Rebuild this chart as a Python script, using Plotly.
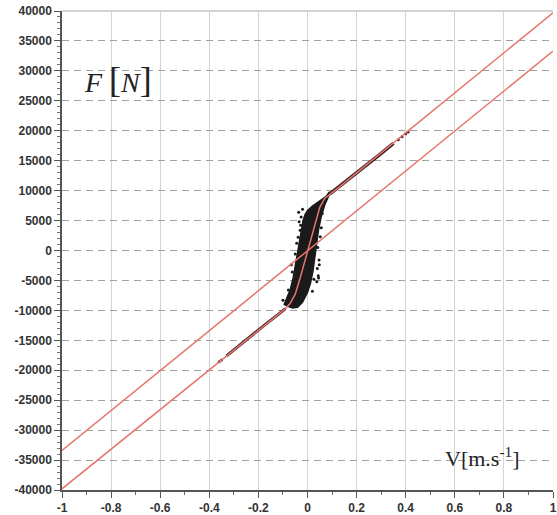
import plotly.graph_objects as go

# ---- tick labels ----
x_tick_vals = [-1, -0.8, -0.6, -0.4, -0.2, 0, 0.2, 0.4, 0.6, 0.8, 1]
x_tick_text = ["-1", "-0.8", "-0.6", "-0.4", "-0.2", "0", "0.2", "0.4", "0.6", "0.8", "1"]
y_tick_vals = [40000, 35000, 30000, 25000, 20000, 15000, 10000, 5000, 0,
               -5000, -10000, -15000, -20000, -25000, -30000, -35000, -40000]
y_tick_text = ["40000", "35000", "30000", "25000", "20000", "15000", "10000", "5000", "0",
               "-5000", "-10000", "-15000", "-20000", "-25000", "-30000", "-35000", "-40000"]

# ---- viscous reference line (red, through origin) ----
ref_v = [-1.0, 1.0]
ref_f = [-33400, 33300]

# ---- model curve (red) ----
model_v = [-1.0, -0.3, -0.12, -0.09, -0.07, -0.05, -0.03, -0.01,
           0.01, 0.03, 0.05, 0.07, 0.09, 0.12, 0.3, 1.0]
model_f = [-39800, -16600, -10700, -9700, -8800, -7300, -4600, -1600,
           1600, 4600, 7200, 8700, 9400, 10300, 16300, 39700]

# ---- measured data: dense cluster outline ----
cluster_v = [0.095, 0.085, 0.07, 0.055, 0.045, 0.036, 0.03, 0.022, 0.012, 0.0,
             -0.02, -0.04, -0.06, -0.075, -0.095, -0.085, -0.07, -0.058, -0.048,
             -0.04, -0.032, -0.025, -0.018, -0.01, 0.0, 0.02, 0.05, 0.075, 0.09]
cluster_f = [9700, 9000, 7600, 5500, 3500, 1000, -1500, -3500, -5500, -7000,
             -8600, -9500, -9600, -9400, -9000, -8000, -6500, -4500, -2000,
             0, 2000, 3500, 5000, 6000, 6700, 7400, 8200, 9000, 9800]

# ---- measured data: scattered outliers ----
out_v = [-0.034, -0.03, -0.026, -0.038, -0.036, 0.047, 0.048, 0.045, 0.044, 0.052,
         0.056, -0.1, -0.066, 0.02, -0.044, 0.04, 0.06, -0.05, 0.038, -0.02,
         -0.028, 0.042, -0.062, 0.026, -0.078, 0.064]
out_f = [4800, 3400, 5600, 2200, 6400, -1600, -2400, -4600, -4200, 2300,
         3800, -8300, -2400, -6800, 1200, -3000, 6200, -600, -5200, 6900,
         4200, 500, -3600, -4800, -6600, 7600]

# ---- measured data: streaks along the branches ----
streak_lo_v = [-0.33, -0.28, -0.22, -0.17, -0.12, -0.09]
streak_lo_f = [-17600, -15900, -13900, -12300, -10700, -9700]
streak_hi_v = [0.09, 0.15, 0.22, 0.29, 0.35]
streak_hi_f = [9400, 11300, 13600, 15900, 17900]
dots_hi_v = [0.37, 0.385, 0.40, 0.41]
dots_hi_f = [18500, 19000, 19500, 19800]
dots_lo_v = [-0.35, -0.36]
dots_lo_f = [-18300, -18600]

RED = "#e4766c"
DARK = "#1a1a1a"

fig = go.Figure()

fig.add_trace(go.Scatter(x=cluster_v, y=cluster_f, mode="lines", fill="toself",
                         fillcolor=DARK, line=dict(color=DARK, width=1.5),
                         hoverinfo="skip", showlegend=False))
fig.add_trace(go.Scatter(x=out_v, y=out_f, mode="markers",
                         marker=dict(color=DARK, size=3), showlegend=False))
fig.add_trace(go.Scatter(x=streak_lo_v, y=streak_lo_f, mode="lines",
                         line=dict(color="#3a2020", width=3), showlegend=False))
fig.add_trace(go.Scatter(x=streak_hi_v, y=streak_hi_f, mode="lines",
                         line=dict(color="#3a2020", width=3.5), showlegend=False))
fig.add_trace(go.Scatter(x=dots_hi_v + dots_lo_v, y=dots_hi_f + dots_lo_f, mode="markers",
                         marker=dict(color="#3a2020", size=3), showlegend=False))
fig.add_trace(go.Scatter(x=ref_v, y=ref_f, mode="lines",
                         line=dict(color=RED, width=1.5), showlegend=False))
fig.add_trace(go.Scatter(x=model_v, y=model_f, mode="lines",
                         line=dict(color=RED, width=1.5), showlegend=False))

tickfont = dict(family="Liberation Sans, Arial, sans-serif", size=12, color="#333333", weight="bold")

fig.update_layout(
    width=557, height=515, autosize=False,
    margin=dict(l=62, r=0, t=11, b=25, pad=0),
    paper_bgcolor="white", plot_bgcolor="white",
    showlegend=False,
    xaxis=dict(range=[-1, 1], tickmode="array", tickvals=x_tick_vals, ticktext=x_tick_text,
               ticks="outside", ticklen=6, tickwidth=1, tickcolor="#555555",
               showline=True, linecolor="#555555", linewidth=1.5,
               showgrid=True, gridcolor="#d4d4d4", gridwidth=1, zeroline=False,
               tickfont=tickfont, ticklabeloverflow="allow",
               minor=dict(tickmode="linear", tick0=0, dtick=0.1, ticks="outside",
                          ticklen=3, tickcolor="#666666", showgrid=False)),
    yaxis=dict(range=[-40000, 40000], tickmode="array", tickvals=y_tick_vals, ticktext=y_tick_text,
               ticks="outside", ticklen=6, tickwidth=1, tickcolor="#555555",
               showline=True, linecolor="#555555", linewidth=1.5,
               showgrid=True, gridcolor="#a0a0a0", griddash="7px,5px", gridwidth=1,
               zeroline=False, tickfont=tickfont,
               minor=dict(tickmode="linear", tick0=0, dtick=1000, ticks="outside",
                          ticklen=3, tickcolor="#777777", showgrid=False)),
    shapes=[dict(type="line", xref="x domain", yref="y domain", x0=0, x1=1, y0=1, y1=1,
                 line=dict(color="#a8a8a8", width=1.2), layer="below")],
    annotations=[
        dict(xref="paper", yref="paper", x=0.115, y=0.856, xanchor="center", yanchor="middle",
             showarrow=False,
             text="<i>F</i> <span style='font-size:36px'>[</span><i>N</i><span style='font-size:36px'>]</span>",
             font=dict(family="Liberation Serif, Times New Roman, serif", size=28, color="#222222")),
        dict(xref="paper", yref="paper", x=0.857, y=0.069, xanchor="center", yanchor="middle",
             showarrow=False,
             text="V[m.s<sup>-1</sup>]",
             font=dict(family="Liberation Serif, Times New Roman, serif", size=22, color="#222222")),
    ],
)

fig.write_html("out.html", post_script="document.body.style.margin='0';",
               config={"displayModeBar": False})
